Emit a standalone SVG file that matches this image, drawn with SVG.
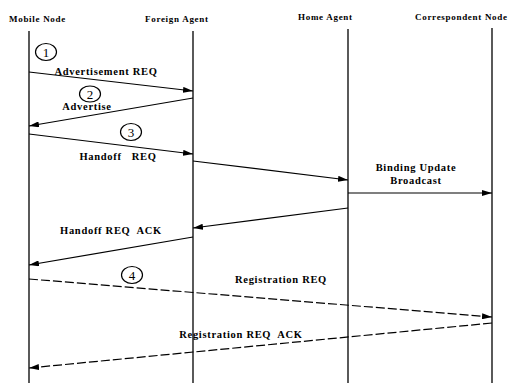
<svg xmlns="http://www.w3.org/2000/svg" width="516" height="385" viewBox="0 0 516 385">
<style>
.hdr{font-family:"Liberation Serif","Times New Roman",serif;font-weight:bold;font-size:9px;letter-spacing:0.7px;fill:#000}
.lbl{font-family:"Liberation Serif","Times New Roman",serif;font-weight:bold;font-size:10.5px;letter-spacing:0.7px;fill:#000;text-anchor:middle}
.num{font-family:"Liberation Serif","Times New Roman",serif;font-size:13px;fill:#000;text-anchor:middle}
.life{stroke:#000;stroke-width:1.3;fill:none}
.msg{stroke:#000;stroke-width:1.2;fill:none;marker-end:url(#ah)}
.dash{stroke-dasharray:9 3}
.circ{fill:none;stroke:#000;stroke-width:1.2}
</style>
<defs>
<marker id="ah" viewBox="0 0 10 6" refX="10" refY="3" markerWidth="10" markerHeight="6" markerUnits="userSpaceOnUse" orient="auto">
<path d="M0,0 L10,3 L0,6 z" fill="#000"/>
</marker>
</defs>
<rect width="516" height="385" fill="#fff"/>
<g id="mobile-node">
<text class="hdr" x="9" y="22">Mobile Node</text>
<line class="life" x1="29" y1="31" x2="29" y2="383"/>
</g>
<g id="foreign-agent">
<text class="hdr" x="145" y="22">Foreign Agent</text>
<line class="life" x1="193" y1="31" x2="193" y2="383"/>
</g>
<g id="home-agent">
<text class="hdr" x="298" y="20">Home Agent</text>
<line class="life" x1="348" y1="29" x2="348" y2="383"/>
</g>
<g id="correspondent-node">
<text class="hdr" x="415" y="20">Correspondent  Node</text>
<line class="life" x1="492" y1="28" x2="492" y2="383"/>
</g>
<g id="steps">
<ellipse class="circ" cx="46" cy="52" rx="10.5" ry="8.5"/><text class="num" x="46" y="57">1</text>
<ellipse class="circ" cx="90" cy="94" rx="10.5" ry="8"/><text class="num" x="90" y="99">2</text>
<ellipse class="circ" cx="131" cy="132" rx="10.5" ry="8.5"/><text class="num" x="131" y="137">3</text>
<ellipse class="circ" cx="132" cy="275" rx="10.5" ry="8.5"/><text class="num" x="132" y="280">4</text>
</g>
<g id="connectors">
<line class="msg" x1="29" y1="72" x2="193" y2="91"/>
<text class="lbl" x="106" y="75">Advertisement REQ</text>
<line class="msg" x1="193" y1="98" x2="29" y2="126"/>
<text class="lbl" x="87" y="110">Advertise</text>
<line class="msg" x1="29" y1="134" x2="193" y2="154"/>
<text class="lbl" x="118" y="160" xml:space="preserve">Handoff   REQ</text>
<line class="msg" x1="193" y1="161" x2="348" y2="180"/>
<line class="msg" x1="348" y1="193" x2="492" y2="193"/>
<text class="lbl" x="416" y="171">Binding Update</text>
<text class="lbl" x="416" y="184">Broadcast</text>
<line class="msg" x1="348" y1="208" x2="193" y2="228"/>
<line class="msg" x1="193" y1="237" x2="29" y2="265"/>
<text class="lbl" x="111" y="234" xml:space="preserve">Handoff REQ  ACK</text>
<line class="msg dash" x1="29" y1="279" x2="492" y2="317"/>
<text class="lbl" x="281" y="283">Registration REQ</text>
<line class="msg dash" x1="492" y1="323" x2="29" y2="368"/>
<text class="lbl" x="241" y="338" xml:space="preserve">Registration REQ  ACK</text>
</g>
</svg>
